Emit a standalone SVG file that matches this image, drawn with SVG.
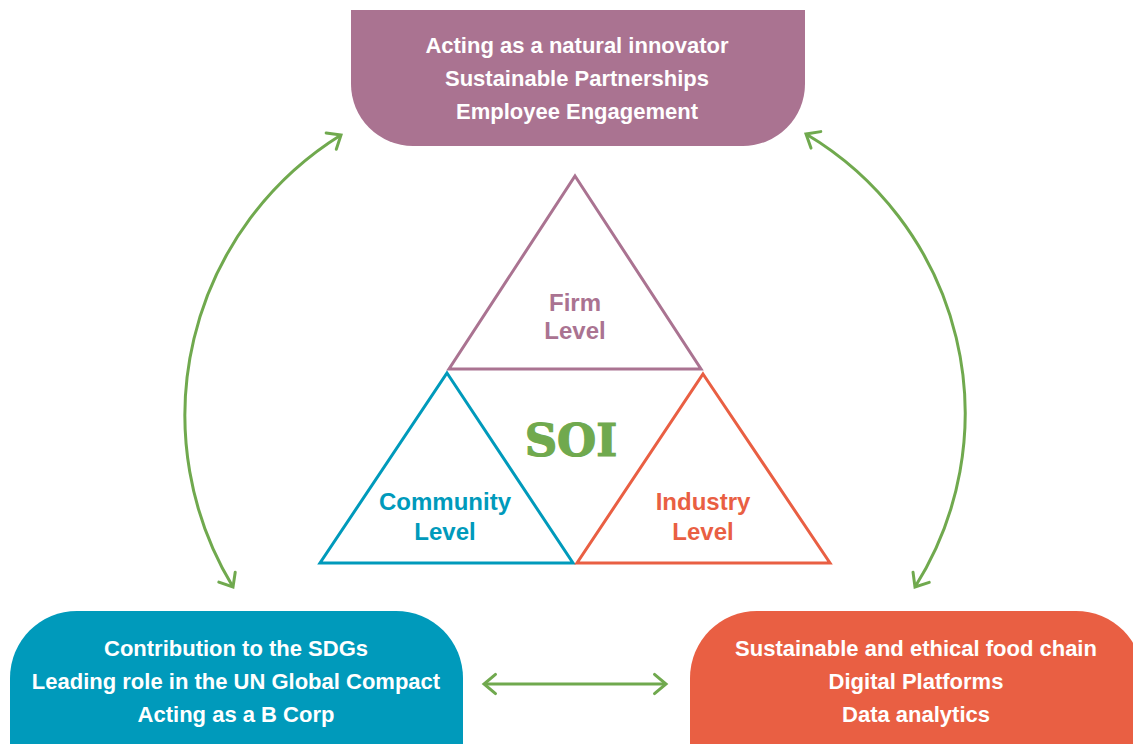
<svg xmlns="http://www.w3.org/2000/svg" width="1133" height="744" viewBox="0 0 1133 744">
  <style>
    .box-text { font-family: "Liberation Sans", Arial, sans-serif; font-weight: bold; font-size: 22px; fill: #ffffff; text-anchor: middle; }
    .tri-text { font-family: "Liberation Sans", Arial, sans-serif; font-weight: bold; font-size: 24px; text-anchor: middle; }
    .tri { fill: none; stroke-width: 3; stroke-linejoin: miter; }
    .conn { fill: none; stroke: #70A94E; stroke-width: 3; }
  </style>
  <defs>
    <marker id="chev" viewBox="-16 -16 32 32" markerWidth="32" markerHeight="32" refX="0" refY="0" markerUnits="userSpaceOnUse" orient="auto-start-reverse">
      <path d="M -11.5 -9.6 L 0 0 L -11.5 9.6" fill="none" stroke="#70A94E" stroke-width="3" stroke-linecap="round" stroke-linejoin="miter"/>
    </marker>
  </defs>
  <rect width="1133" height="744" fill="#ffffff"/>

  <g id="connectors">
    <path class="conn" d="M 341 135 A 330 330 0 0 0 233 587" marker-start="url(#chev)" marker-end="url(#chev)"/>
    <path class="conn" d="M 806 134 A 325 325 0 0 1 915 587" marker-start="url(#chev)" marker-end="url(#chev)"/>
    <path class="conn" d="M 484 684 L 666 684" marker-start="url(#chev)" marker-end="url(#chev)"/>
  </g>

  <g id="firm-box">
    <path d="M 351 10 L 805 10 L 805 84 A 62 62 0 0 1 743 146 L 413 146 A 62 62 0 0 1 351 84 Z" fill="#AA7391"/>
    <text class="box-text" x="577" y="53">Acting as a natural innovator</text>
    <text class="box-text" x="577" y="86">Sustainable Partnerships</text>
    <text class="box-text" x="577" y="119">Employee Engagement</text>
  </g>

  <g id="community-box">
    <path d="M 10 744 L 10 678 A 67 67 0 0 1 77 611 L 396 611 A 67 67 0 0 1 463 678 L 463 744 Z" fill="#009ABB"/>
    <text class="box-text" x="236" y="656">Contribution to the SDGs</text>
    <text class="box-text" x="236" y="689">Leading role in the UN Global Compact</text>
    <text class="box-text" x="236" y="722">Acting as a B Corp</text>
  </g>

  <g id="industry-box">
    <path d="M 690 744 L 690 678 A 67 67 0 0 1 757 611 L 1076 611 A 67 67 0 0 1 1143 678 L 1143 744 Z" fill="#E95F43"/>
    <text class="box-text" x="916" y="656">Sustainable and ethical food chain</text>
    <text class="box-text" x="916" y="689">Digital Platforms</text>
    <text class="box-text" x="916" y="722">Data analytics</text>
  </g>

  <g id="firm-level">
    <polygon class="tri" points="575,176 701,369 449,369" stroke="#AA7391"/>
    <text class="tri-text" x="575" y="311" fill="#AA7391">Firm</text>
    <text class="tri-text" x="575" y="339" fill="#AA7391">Level</text>
  </g>

  <g id="community-level">
    <polygon class="tri" points="447,373 573,563 320,563" stroke="#009ABB"/>
    <text class="tri-text" x="445" y="510" fill="#009ABB">Community</text>
    <text class="tri-text" x="445" y="540" fill="#009ABB">Level</text>
  </g>

  <g id="industry-level">
    <polygon class="tri" points="703,374 830,563 577,563" stroke="#E95F43"/>
    <text class="tri-text" x="703" y="510" fill="#E95F43">Industry</text>
    <text class="tri-text" x="703" y="540" fill="#E95F43">Level</text>
  </g>

  <g id="soi">
    <text x="571" y="456" font-family="'DejaVu Serif', 'Liberation Serif', serif" font-weight="bold" font-size="45" fill="#70A94E" stroke="#70A94E" stroke-width="1.2" text-anchor="middle">SOI</text>
  </g>
</svg>
